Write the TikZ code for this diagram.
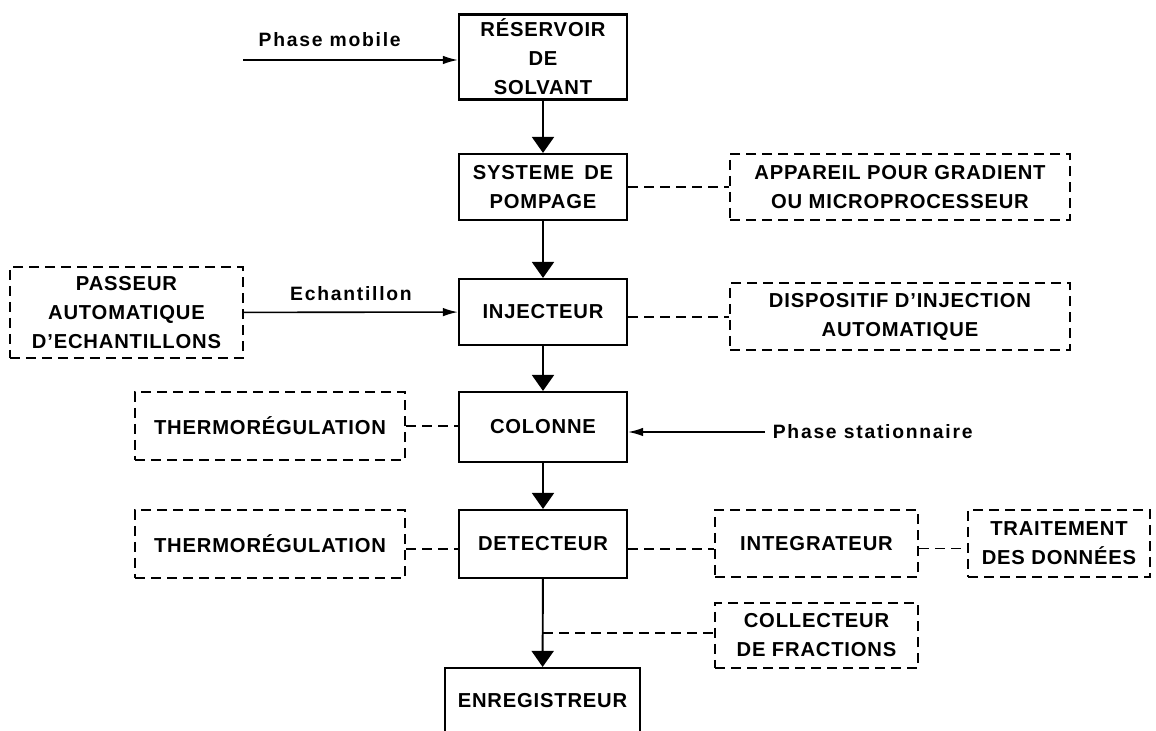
\documentclass[tikz,border=0pt]{standalone}
\usepackage{fontspec}
\setmainfont{Liberation Sans}[LetterSpace=4]
\newfontfamily\labfont[LetterSpace=9]{Liberation Sans}
\usetikzlibrary{arrows.meta}

\begin{document}
\begin{tikzpicture}[font=\bfseries\fontsize{11.5}{16.5}\selectfont,
  box/.style={draw,line width=1.2pt,align=center,minimum width=3.36cm,minimum height=1.32cm,inner sep=1pt},
  dbox/.style={draw,line width=1.2pt,dash pattern=on 0.2cm off 0.12cm,align=center,minimum height=1.32cm,inner sep=1pt},
  lab/.style={font=\labfont\bfseries\fontsize{11}{14}\selectfont},
  dl/.style={line width=1.1pt,dash pattern=on 0.2cm off 0.12cm},
  big/.style={line width=1.1pt,-{Triangle[length=0.32cm,width=0.44cm]}},
  small/.style={line width=0.9pt,-{Latex[length=0.3cm,width=0.17cm]}}]
\useasboundingbox (0,0) rectangle (23.12,-14.62);
% main column
\node[box,minimum height=1.7cm] (res)at(10.86,-1.14){RÉSERVOIR\\DE\\SOLVANT};
\node[box] (pomp)at(10.86,-3.74){SYSTEME\enspace DE\\POMPAGE};
\node[box] (inj)at(10.86,-6.24){INJECTEUR};
\node[box,minimum height=1.4cm] (col)at(10.86,-8.54){COLONNE};
\node[box,minimum height=1.36cm] (det)at(10.86,-10.88){DETECTEUR};
\node[box,minimum width=3.9cm,minimum height=1.3cm] (enr)at(10.85,-14.01){ENREGISTREUR};
% side boxes
\node[dbox,minimum width=6.8cm] (app)at(18.0,-3.74){APPAREIL POUR GRADIENT\\OU MICROPROCESSEUR};
\node[dbox,minimum width=6.8cm,minimum height=1.34cm] (disp)at(18.0,-6.33){DISPOSITIF D'INJECTION\\AUTOMATIQUE};
\node[dbox,minimum width=4.66cm,minimum height=1.82cm] (pass)at(2.53,-6.25){PASSEUR\\AUTOMATIQUE\\D'ECHANTILLONS};
\node[dbox,minimum width=5.4cm,minimum height=1.36cm] (th1)at(5.4,-8.52){THERMORÉGULATION};
\node[dbox,minimum width=5.4cm,minimum height=1.36cm] (th2)at(5.4,-10.88){THERMORÉGULATION};
\node[dbox,minimum width=4.06cm,minimum height=1.34cm] (int)at(16.33,-10.87){INTEGRATEUR};
\node[dbox,minimum width=3.64cm,minimum height=1.34cm] (trait)at(21.18,-10.87){TRAITEMENT\\DES DONNÉES};
\node[dbox,minimum width=4.06cm,minimum height=1.3cm] (coll)at(16.33,-12.71){COLLECTEUR\\DE FRACTIONS};
% inputs
\coordinate (pm)at(4.86,-1.2);
\node[lab,anchor=south west] at(5.05,-1.05){Phase mobile};
\node[lab,anchor=west,inner sep=0pt] (ps)at(15.45,-8.64){Phase stationnaire};
% arrows
\draw[big] (res) -- (pomp);
\draw[big] (pomp) -- (inj);
\draw[big] (inj) -- (col);
\draw[big] (col) -- (det);
\draw[big] (det) -- (enr);
\draw[small] (pm) -- (pm -| res.west);
\draw[small] (pass) -- node[lab,above=3pt]{Echantillon} (inj);
\draw[small] ([xshift=-0.15cm]ps.west) -- (ps.west -| col.east);
% dashed links
\draw[dl] (pomp) -- (app);
\draw[dl] ([yshift=-0.1cm]inj.east) -- ([yshift=-0.1cm]inj.east -| disp.west);
\draw[dl] (th1) -- (th1 -| col.west);
\draw[dl] ([yshift=-0.1cm]th2.east) -- ([yshift=-0.1cm]th2.east -| det.west);
\draw[dl] ([yshift=-0.1cm]det.east) -- ([yshift=-0.1cm]det.east -| int.west);
\draw[dl] ([yshift=-0.1cm]int.east) -- ([yshift=-0.1cm]int.east -| trait.west);
\coordinate (c)at(10.86,-12.66);
\draw[dl] (c) -- (c -| coll.west);
\end{tikzpicture}
\end{document}
